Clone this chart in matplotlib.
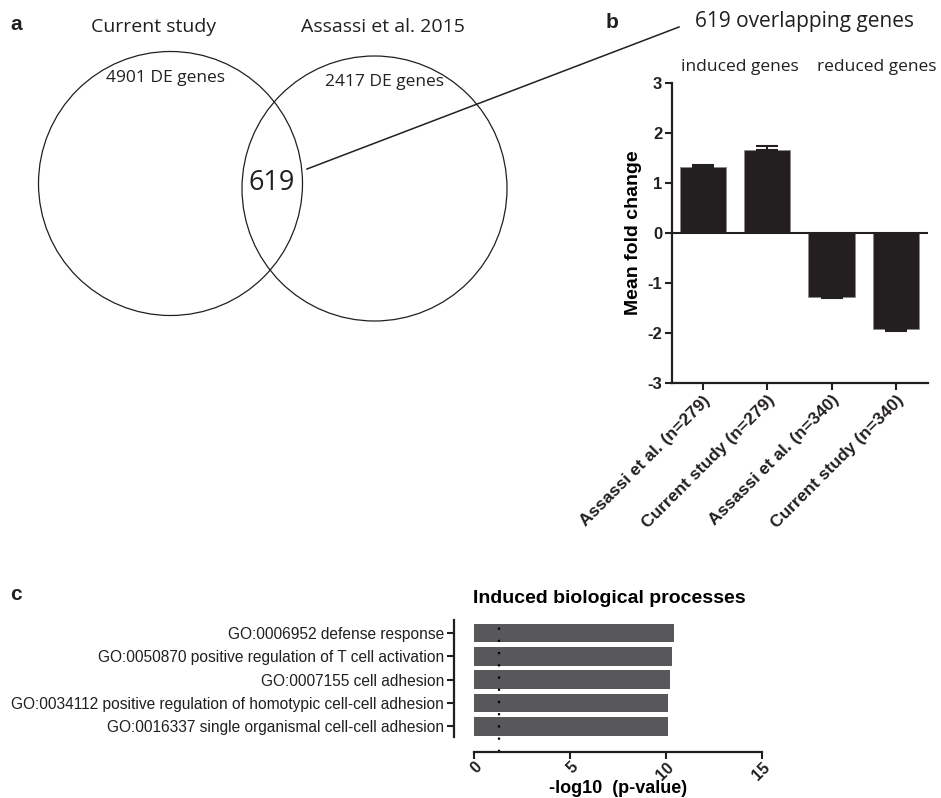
import numpy as np
import matplotlib.pyplot as plt
from matplotlib.patches import Circle

plt.rcParams['font.family'] = ['Liberation Sans', 'DejaVu Sans']
plt.rcParams['axes.unicode_minus'] = False

# ---- data ----
venn_names = ['Current study', 'Assassi et al. 2015']
venn_counts = [4901, 2417]
overlap = 619

groups = ['induced genes', 'reduced genes']
bar_labels = ['Assassi et al. (n=279)', 'Current study (n=279)',
              'Assassi et al. (n=340)', 'Current study (n=340)']
fold_mean = [1.33, 1.67, -1.27, -1.91]
fold_err = [0.03, 0.08, 0.02, 0.04]

go_terms = ['GO:0006952 defense response',
            'GO:0050870 positive regulation of T cell activation',
            'GO:0007155 cell adhesion',
            'GO:0034112 positive regulation of homotypic cell-cell adhesion',
            'GO:0016337 single organismal cell-cell adhesion']
go_logp = [10.43, 10.29, 10.22, 10.13, 10.11]
cutoff = 1.3  # -log10(0.05)

W, H = 941, 798
ink = '#231f20'
venn_font = ['Open Sans', 'DejaVu Sans']

fig = plt.figure(figsize=(W / 100, H / 100), dpi=100)

# ---- a: venn (pixel coordinates) ----
ax0 = fig.add_axes([0, 0, 1, 1])
ax0.set_xlim(0, W)
ax0.set_ylim(H, 0)
ax0.axis('off')

ax0.add_patch(Circle((170.5, 183.5), 132, fill=False, lw=0.9, ec=ink))
ax0.add_patch(Circle((374.5, 188.5), 132.5, fill=False, lw=0.9, ec=ink))
ax0.plot([307, 679], [169, 27], color=ink, lw=1.1)

ax0.text(154, 27, venn_names[0], ha='center', va='center', fontsize=14, family=venn_font, color=ink)
ax0.text(383, 27, venn_names[1], ha='center', va='center', fontsize=14, family=venn_font, color=ink)
ax0.text(166, 78, f'{venn_counts[0]} DE genes', ha='center', va='center', fontsize=12.5, family=venn_font, color=ink)
ax0.text(385, 82, f'{venn_counts[1]} DE genes', ha='center', va='center', fontsize=12.5, family=venn_font, color=ink)
ax0.text(272, 183, str(overlap), ha='center', va='center', fontsize=19.5, family=venn_font, color=ink)
ax0.text(805, 22, f'{overlap} overlapping genes', ha='center', va='center', fontsize=15, family=venn_font, color=ink)
ax0.text(740, 67, groups[0], ha='center', va='center', fontsize=12.5, family=venn_font, color=ink)
ax0.text(877, 67, groups[1], ha='center', va='center', fontsize=12.5, family=venn_font, color=ink)

for lab, (px, py) in zip(['a', 'b', 'c'], [(10, 25), (606, 23), (10, 595)]):
    ax0.text(px, py, lab, ha='left', va='center', fontsize=15, fontweight='bold', color=ink)

# ---- b: mean fold change ----
axb = fig.add_axes([672 / W, 1 - 383 / H, 256 / W, 300 / H])
x = np.arange(len(fold_mean))
axb.bar(x, fold_mean, width=0.72, color=ink, edgecolor='#8a8a8a', linewidth=0.6)
lo = [e if m < 0 else 0 for m, e in zip(fold_mean, fold_err)]
up = [e if m > 0 else 0 for m, e in zip(fold_mean, fold_err)]
axb.errorbar(x, fold_mean, yerr=[lo, up], fmt='none', ecolor=ink, capsize=8,
             elinewidth=1.5, capthick=1.5)
axb.axhline(0, color=ink, lw=1.5)
axb.set_xlim(-0.48, 3.5)
axb.set_ylim(-3, 3)
axb.set_yticks(range(-3, 4))
axb.set_yticklabels([str(v) for v in range(-3, 4)], fontweight='bold', fontsize=12)
axb.set_xticks(x)
axb.set_xticklabels(bar_labels, rotation=45, ha='right', rotation_mode='anchor',
                    fontweight='bold', fontsize=12.5)
axb.set_ylabel('Mean fold change', fontweight='bold', fontsize=14, labelpad=4)
for s in ['top', 'right']:
    axb.spines[s].set_visible(False)
for s in ['left', 'bottom']:
    axb.spines[s].set_linewidth(1.6)
    axb.spines[s].set_color(ink)
axb.tick_params(width=1.5, length=5, color=ink, labelcolor=ink, pad=2)

# ---- c: GO terms ----
axc = fig.add_axes([474 / W, 1 - 752 / H, 288 / W, 132 / H])
# spine position first: moving a spine resets its ticks
for s in ['top', 'right']:
    axc.spines[s].set_visible(False)
axc.spines['left'].set_position(('outward', 14.4))

y = np.arange(len(go_logp))
axc.barh(y, go_logp, height=0.8, color='#58585a')
axc.axvline(cutoff, color='black', lw=1.6, ls=(0, (1, 4.5)))
axc.set_xlim(0, 15)
axc.set_ylim(5.107, -0.558)
axc.set_yticks(y)
axc.set_yticklabels(go_terms, fontsize=11.2, color=ink)
axc.set_xticks([0, 5, 10, 15])
axc.set_xticklabels(['0', '5', '10', '15'], rotation=45, ha='right', rotation_mode='anchor',
                    fontweight='bold', fontsize=11.5)
axc.set_xlabel('-log10  (p-value)', fontweight='bold', fontsize=13, va='center')
axc.xaxis.set_label_coords(0.5, -0.28)
axc.set_title('Induced biological processes', fontweight='bold', fontsize=14, pad=12, x=0.47)
axc.spines['left'].set_bounds(-0.558, 4.46)
axc.spines['bottom'].set_bounds(0, 15)
for s in ['left', 'bottom']:
    axc.spines[s].set_linewidth(1.6)
    axc.spines[s].set_color(ink)
axc.tick_params(width=1.5, length=5, color=ink, labelcolor=ink, pad=2)
axc.tick_params(axis='x', pad=0.5)

fig.savefig('out.png', dpi=100)
